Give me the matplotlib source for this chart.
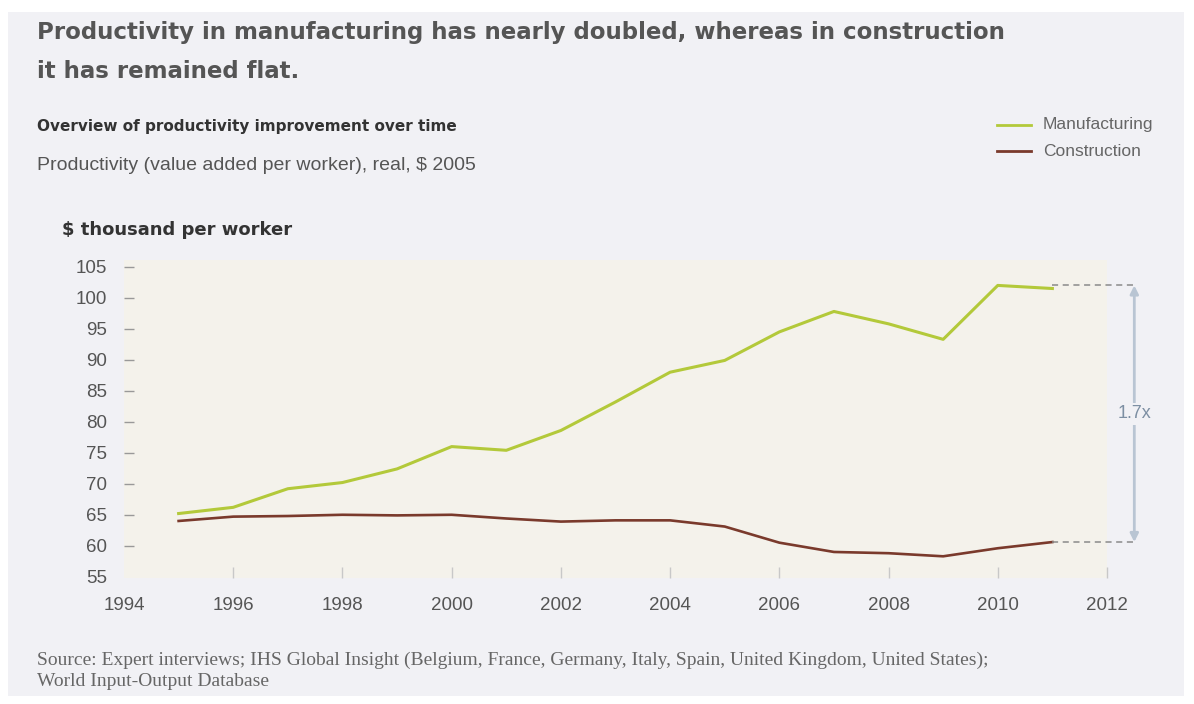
import matplotlib.pyplot as plt
from matplotlib.patches import Rectangle

years = [1995, 1996, 1997, 1998, 1999, 2000, 2001, 2002, 2003,
         2004, 2005, 2006, 2007, 2008, 2009, 2010, 2011]
manufacturing = [65.2, 66.2, 69.2, 70.2, 72.4, 76.0, 75.4, 78.6, 83.2,
                 88.0, 89.9, 94.5, 97.8, 95.8, 93.3, 102.0, 101.5]
construction = [64.0, 64.7, 64.8, 65.0, 64.9, 65.0, 64.4, 63.9, 64.1,
                64.1, 63.1, 60.5, 59.0, 58.8, 58.3, 59.6, 60.6]
x_ticks = [1994, 1996, 1998, 2000, 2002, 2004, 2006, 2008, 2010, 2012]
y_ticks = [55, 60, 65, 70, 75, 80, 85, 90, 95, 100, 105]
ratio_label = "1.7x"

GREEN = "#b3c93a"
BROWN = "#7a3a2c"
TEXT = "#555555"
BOLD_FONT = ["DejaVu Sans"]
plt.rcParams["font.family"] = ["Liberation Sans", "DejaVu Sans"]

W, H = 1194, 704
fig = plt.figure(figsize=(W / 100, H / 100), dpi=100, facecolor="white")
fig.patches.append(Rectangle((8 / W, 1 - 696 / H), 1176 / W, 684 / H,
                             transform=fig.transFigure, facecolor="#f1f1f5",
                             edgecolor="none", zorder=-10))

ax = fig.add_axes([124 / W, 1 - 578 / H, (1107 - 124) / W, (578 - 260) / H])
ax.set_facecolor("#f4f2eb")
for spine in ax.spines.values():
    spine.set_visible(False)

ax.plot(years, manufacturing, color=GREEN, lw=2.2, solid_joinstyle="round")
ax.plot(years, construction, color=BROWN, lw=1.9, solid_joinstyle="round")

ax.set_xlim(1994, 2012)
ax.set_ylim(54.8, 106.1)
ax.set_xticks(x_ticks)
ax.set_yticks(y_ticks)
ax.tick_params(axis="x", direction="in", length=8, width=1, color="#c8c8c8",
               labelsize=13.5, labelcolor=TEXT, pad=14)
ax.tick_params(axis="y", direction="in", length=7, width=1, color="#999999",
               labelsize=13.5, labelcolor=TEXT, pad=12)
# no tick marks at the shared corner
ax.xaxis.get_major_ticks()[0].tick1line.set_visible(False)
ax.yaxis.get_major_ticks()[0].tick1line.set_visible(False)

# gap annotation from the last values
arrow_x = 2012.5
top, bottom = manufacturing[-1] + 0.5, construction[-1]
ax.plot([years[-1], arrow_x], [top, top], ls=(0, (4, 3)), color="#8a8a8a",
        lw=1.1, clip_on=False)
ax.plot([years[-1], arrow_x], [bottom, bottom], ls=(0, (4, 3)), color="#8a8a8a",
        lw=1.1, clip_on=False)
ax.annotate("", xy=(arrow_x, top), xytext=(arrow_x, bottom),
            arrowprops=dict(arrowstyle="<|-|>", color="#b9c5d3", lw=2,
                            mutation_scale=12, shrinkA=0, shrinkB=0),
            annotation_clip=False)
ax.text(arrow_x, (top + bottom) / 2, ratio_label, ha="center", va="center",
        fontsize=13, color="#7d8fa3", clip_on=False,
        bbox=dict(facecolor="#f1f1f5", edgecolor="none", pad=2))

fig.text(37 / W, 1 - 33 / H,
         "Productivity in manufacturing has nearly doubled, whereas in construction",
         family=BOLD_FONT, fontsize=16.5, fontweight="bold", color=TEXT, va="center")
fig.text(37 / W, 1 - 72 / H, "it has remained flat.",
         family=BOLD_FONT, fontsize=16.5, fontweight="bold", color=TEXT, va="center")
fig.text(37 / W, 1 - 127 / H, "Overview of productivity improvement over time",
         family=BOLD_FONT, fontsize=11, fontweight="bold", color="#333333",
         va="center")
fig.text(37 / W, 1 - 166 / H, "Productivity (value added per worker), real, $ 2005",
         fontsize=14, color=TEXT, va="center")
fig.text(62 / W, 1 - 230 / H, "$ thousand per worker",
         family=BOLD_FONT, fontsize=13, fontweight="bold", color="#333333",
         va="center")

# legend drawn by hand, top right
for i, (name, color) in enumerate([("Manufacturing", GREEN), ("Construction", BROWN)]):
    y = 1 - (125 + 26 * i) / H
    fig.lines.append(plt.Line2D([997 / W, 1031 / W], [y, y], color=color, lw=2,
                                transform=fig.transFigure))
    fig.text(1043 / W, y, name, fontsize=12.5, color="#666666", va="center")

fig.text(37 / W, 1 - 660 / H,
         "Source: Expert interviews; IHS Global Insight (Belgium, France, Germany, "
         "Italy, Spain, United Kingdom, United States);",
         family="Liberation Serif", fontsize=14, color="#666666", va="center")
fig.text(37 / W, 1 - 681 / H, "World Input-Output Database",
         family="Liberation Serif", fontsize=14, color="#666666", va="center")

fig.savefig("out.png", dpi=100, facecolor="white")
